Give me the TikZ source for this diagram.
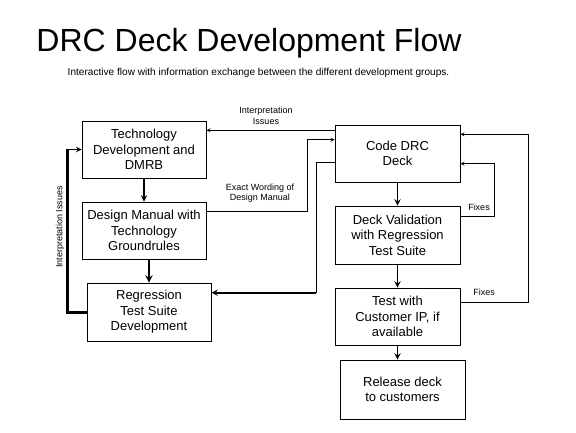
\documentclass[tikz,border=0pt]{standalone}
\usepackage{fontspec}
\setmainfont{Liberation Sans}
\usetikzlibrary{calc, positioning}

\begin{document}
\begin{tikzpicture}[>=stealth, x=1pt, y=-1pt,
    box/.style={draw, line width=.8pt, minimum width=124pt, minimum height=57pt, inner sep=0pt, align=center, font=\fontsize{13}{15.5}\selectfont},
    lbl/.style={font=\fontsize{9}{10.5}\selectfont, align=center, inner sep=0pt}]
    \useasboundingbox (0,0) rectangle (576,433);
    \node(title) at (249,43){\fontsize{32}{32}\selectfont DRC Deck Development Flow};
    \node(sub) at (258.5,73){\fontsize{10.1}{10}\selectfont Interactive flow with information exchange between the different development groups.};
    % left column
    \node[box](tech) at (144,149.5){Technology\\Development and\\DMRB};
    \node[box](manual) at (144,230.5){Design Manual with\\Technology\\Groundrules};
    \node[box, minimum height=58pt](regress) at (149,312){Regression\\Test Suite\\Development};
    % right column
    \node[box, minimum width=125pt](code) at (397.5,153.5){Code DRC\\Deck};
    \node[box, minimum width=125pt, minimum height=58pt](valid) at (397.5,235){Deck Validation\\with Regression\\Test Suite};
    \node[box, minimum width=125pt](custtest) at (397.5,316.5){Test with\\Customer IP, if\\available};
    \node[box, minimum width=125pt, minimum height=59pt](release) at (402.5,389.5){Release deck\\to customers};
    % downward flow
    \draw[->, line width=1.8pt](tech)--(manual);
    \draw[->, line width=2.2pt](manual.south -| regress)--(regress);
    \draw[->, line width=1.8pt](code)--(valid);
    \draw[->, line width=1.8pt](valid)--(custtest);
    \draw[->, line width=1.8pt](custtest.south)--(custtest.south |- release.north);
    % feedback to technology
    \draw[line width=3pt](regress.west)-|($(tech.west)+(-14.3,0)$)coordinate(lp);
    \draw[->, line width=1.5pt](lp)--(tech.west);
    \node[lbl, rotate=90](lpissues) at (60,227){Interpretation Issues};
    \draw[->, line width=.8pt]($(code.west)+(0,-23.2)$)coordinate(c1)--(c1 -| tech.east);
    \node[lbl](cissues) at (266,116){Interpretation\\Issues};
    \draw[->, line width=.8pt]($(manual.east)+(0,-18.8)$)--++(100.7,0)|-($(code.west)+(0,-13.8)$);
    \node[lbl](wording) at (260,193){Exact Wording of\\Design Manual};
    \draw[line width=.8pt]($(code.west)+(0,9.2)$)--++(-18.7,0)coordinate(c2)--(c2 |- 0,292.7)coordinate(c3);
    \draw[->, line width=1.8pt](c3)--(c3 -| regress.east);
    % fixes
    \draw[->, line width=.8pt]($(valid.east)+(0,-18.7)$)--++(34.3,0)|-($(code.east)+(0,10.2)$);
    \node[lbl](fix1) at (479,207){Fixes};
    \draw[->, line width=.8pt]($(custtest.east)+(0,-14.5)$)--++(68.3,0)|-($(code.east)+(0,-19.2)$);
    \node[lbl](fix2) at (484,292){Fixes};
\end{tikzpicture}
\end{document}
